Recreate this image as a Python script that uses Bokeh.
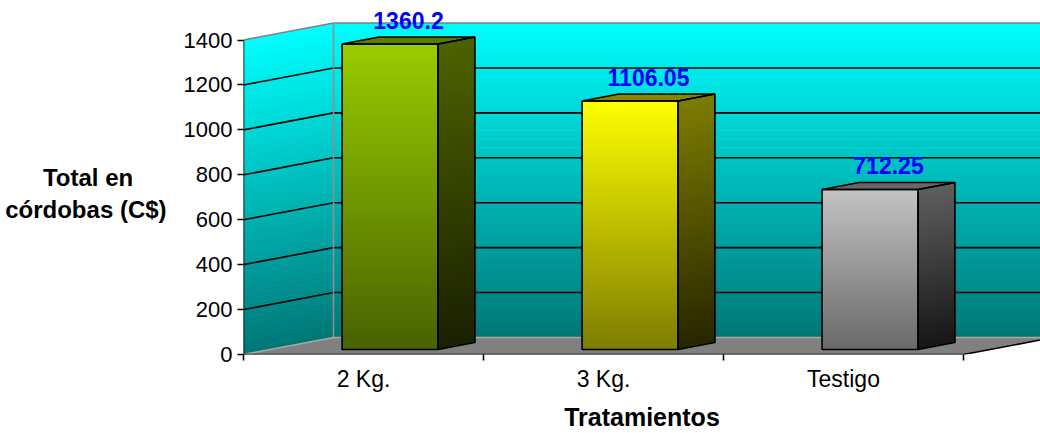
import numpy as np
from bokeh.plotting import figure
from bokeh.models import Range1d, FixedTicker
from bokeh.embed import file_html
from bokeh.resources import INLINE
from bokeh.core.properties import value

# ---------------- data ----------------
categories = ["2 Kg.", "3 Kg.", "Testigo"]
totals = [1360.2, 1106.05, 712.25]
total_labels = ["1360.2", "1106.05", "712.25"]
y_ticks = [0, 200, 400, 600, 800, 1000, 1200, 1400]
y_title = "\nTotal en" + "\u00a0" * 5 + "\ncórdobas (C$)"
x_title = "Tratamientos"

# ---------------- style ----------------
FONT = "Liberation Sans"
DX, DY = 0.375, 75.7          # oblique depth offset (data units)
D0, D1 = 0.295, 0.705         # bar depth span (fraction of depth)
HALF_W = 0.2                  # half bar width (category units)
LBL_GAP = 89.5                # value-label position above bar top (data units)
YMAX = y_ticks[-1]
NCAT = len(categories)
XEND = 3.3208
YEND = 1576.0

front_cols = [((153, 204, 0), (72, 98, 0)),
              ((255, 255, 0), (124, 124, 0)),
              ((195, 195, 195), (105, 105, 105))]
side_cols = [((78, 98, 0), (26, 32, 0)),
             ((125, 125, 0), (38, 38, 0)),
             ((95, 95, 95), (22, 22, 22))]
top_cols = ["#5f7a00", "#858500", "#666666"]


def lerp(c_top, c_bot, t):
    r = [int(round(b + (a - b) * t)) for a, b in zip(c_top, c_bot)]
    return "#%02x%02x%02x" % tuple(r)


p = figure(width=1040, height=433, output_backend="svg", toolbar_location=None,
           x_range=Range1d(0, XEND), y_range=Range1d(0, YEND),
           min_border_left=243, min_border_right=0, min_border_top=0,
           min_border_bottom=79)
p.outline_line_color = None
p.grid.visible = False
p.background_fill_color = "white"

# ---------------- walls ----------------
N = 70
edges = np.linspace(0, YMAX, N + 1)
wall_top, wall_bot = (0, 255, 255), (0, 118, 118)
wcols = [lerp(wall_top, wall_bot, ((edges[i] + edges[i + 1]) / 2) / YMAX) for i in range(N)]
ov = 3.0
p.quad(left=DX, right=XEND + 0.1, bottom=list(edges[:-1] + DY),
       top=list(np.minimum(edges[1:] + DY + ov, YMAX + DY)),
       fill_color=wcols, line_color=None)
sx = [[0, 0, DX, DX] for i in range(N)]
sy = [[edges[i], min(edges[i + 1] + ov, YMAX), min(edges[i + 1] + ov, YMAX) + DY, edges[i] + DY]
      for i in range(N)]
p.patches(sx, sy, fill_color=wcols, line_color=None)

# floor
p.patch([0, NCAT, NCAT + DX, XEND + 0.2, XEND + 0.2, DX],
        [0, 0, DY, DY, DY, DY], fill_color="#808080", line_color=None)

# gridlines and edges
for v in y_ticks[1:-1]:
    p.line([0, DX, XEND + 0.1], [v, v + DY, v + DY], line_color="black", line_width=1.6)
p.line([0, DX, XEND + 0.1], [YMAX, YMAX + DY, YMAX + DY], line_color="#808080", line_width=1.6)
p.line([DX, DX], [DY, YMAX + DY], line_color="#909090", line_width=1.6)
p.line([0, DX, XEND + 0.1], [0, DY, DY], line_color="#a8a8a8", line_width=1.6)
p.line([0, 0], [0, YMAX], line_color="black", line_width=1.6)
p.line([0, NCAT, NCAT + DX], [0, 0, DY], line_color="black", line_width=1.6)

# ---------------- bars ----------------
NB = 60
for i, v in enumerate(totals):
    c = i + 0.5
    xl0, xr0 = c - HALF_W + D0 * DX, c + HALF_W + D0 * DX
    xl1, xr1 = c - HALF_W + D1 * DX, c + HALF_W + D1 * DX
    y0, y1 = D0 * DY, D1 * DY
    e = np.linspace(0, v, NB + 1)
    fc = [lerp(front_cols[i][0], front_cols[i][1], ((e[k] + e[k + 1]) / 2) / v) for k in range(NB)]
    scol = [lerp(side_cols[i][0], side_cols[i][1], ((e[k] + e[k + 1]) / 2) / v) for k in range(NB)]
    ovb = v / NB * 0.5
    p.quad(left=xl0, right=xr0, bottom=list(e[:-1] + y0),
           top=list(np.minimum(e[1:] + ovb, v) + y0), fill_color=fc, line_color=None)
    p.patches([[xr0, xr0, xr1, xr1] for k in range(NB)],
              [[e[k] + y0, min(e[k + 1] + ovb, v) + y0, min(e[k + 1] + ovb, v) + y1, e[k] + y1]
               for k in range(NB)],
              fill_color=scol, line_color=None)
    p.patch([xl0, xr0, xr1, xl1], [v + y0, v + y0, v + y1, v + y1],
            fill_color=top_cols[i], line_color="black", line_width=1.6)
    p.patch([xl0, xr0, xr0, xl0], [y0, y0, v + y0, v + y0],
            fill_color=None, line_color="black", line_width=1.6)
    p.patch([xr0, xr1, xr1, xr0], [y0, y1, v + y1, v + y0],
            fill_color=None, line_color="black", line_width=1.6)

# value labels
p.text(x=[i + 0.5 + 0.5 * DX for i in range(NCAT)],
       y=[v + 0.5 * (D0 + D1) * DY + LBL_GAP for v in totals],
       text=total_labels, text_font=value(FONT), text_font_style="bold",
       text_font_size="23px", text_color="#0000ff", text_align="center",
       text_baseline="alphabetic")

# ---------------- axes ----------------
xa = p.xaxis[0]
xa.ticker = FixedTicker(ticks=[i + 0.5 for i in range(NCAT)],
                        minor_ticks=list(range(NCAT + 1)))
xa.major_label_overrides = {i + 0.5: cat for i, cat in enumerate(categories)}
xa.axis_line_color = None
xa.major_tick_out = 0
xa.major_tick_in = 0
xa.minor_tick_out = 6
xa.minor_tick_in = 0
xa.minor_tick_line_color = "black"
xa.minor_tick_line_width = 1.6
xa.major_label_standoff = 5
xa.major_label_text_font = FONT
xa.major_label_text_font_size = "23px"
xa.major_label_text_color = "black"
xa.axis_label = x_title
xa.axis_label_standoff = 8
xa.axis_label_text_font = FONT
xa.axis_label_text_font_style = "bold"
xa.axis_label_text_font_size = "25px"
xa.axis_label_text_color = "black"

ya = p.yaxis[0]
ya.ticker = FixedTicker(ticks=y_ticks, minor_ticks=[])
ya.axis_line_color = None
ya.major_tick_out = 6
ya.major_tick_in = 0
ya.major_tick_line_color = "black"
ya.major_tick_line_width = 1.6
ya.minor_tick_out = 0
ya.minor_tick_in = 0
ya.major_label_standoff = 5
ya.major_label_text_font = FONT
ya.major_label_text_font_size = "22px"
ya.major_label_text_color = "black"
ya.axis_label = y_title
ya.axis_label_standoff = 14
ya.axis_label_text_font = FONT
ya.axis_label_text_font_style = "bold"
ya.axis_label_text_font_size = "24px"
ya.axis_label_text_color = "black"
if "axis_label_orientation" in ya.properties():
    ya.axis_label_orientation = "horizontal"

open("out.html", "w").write(file_html(p, INLINE))
